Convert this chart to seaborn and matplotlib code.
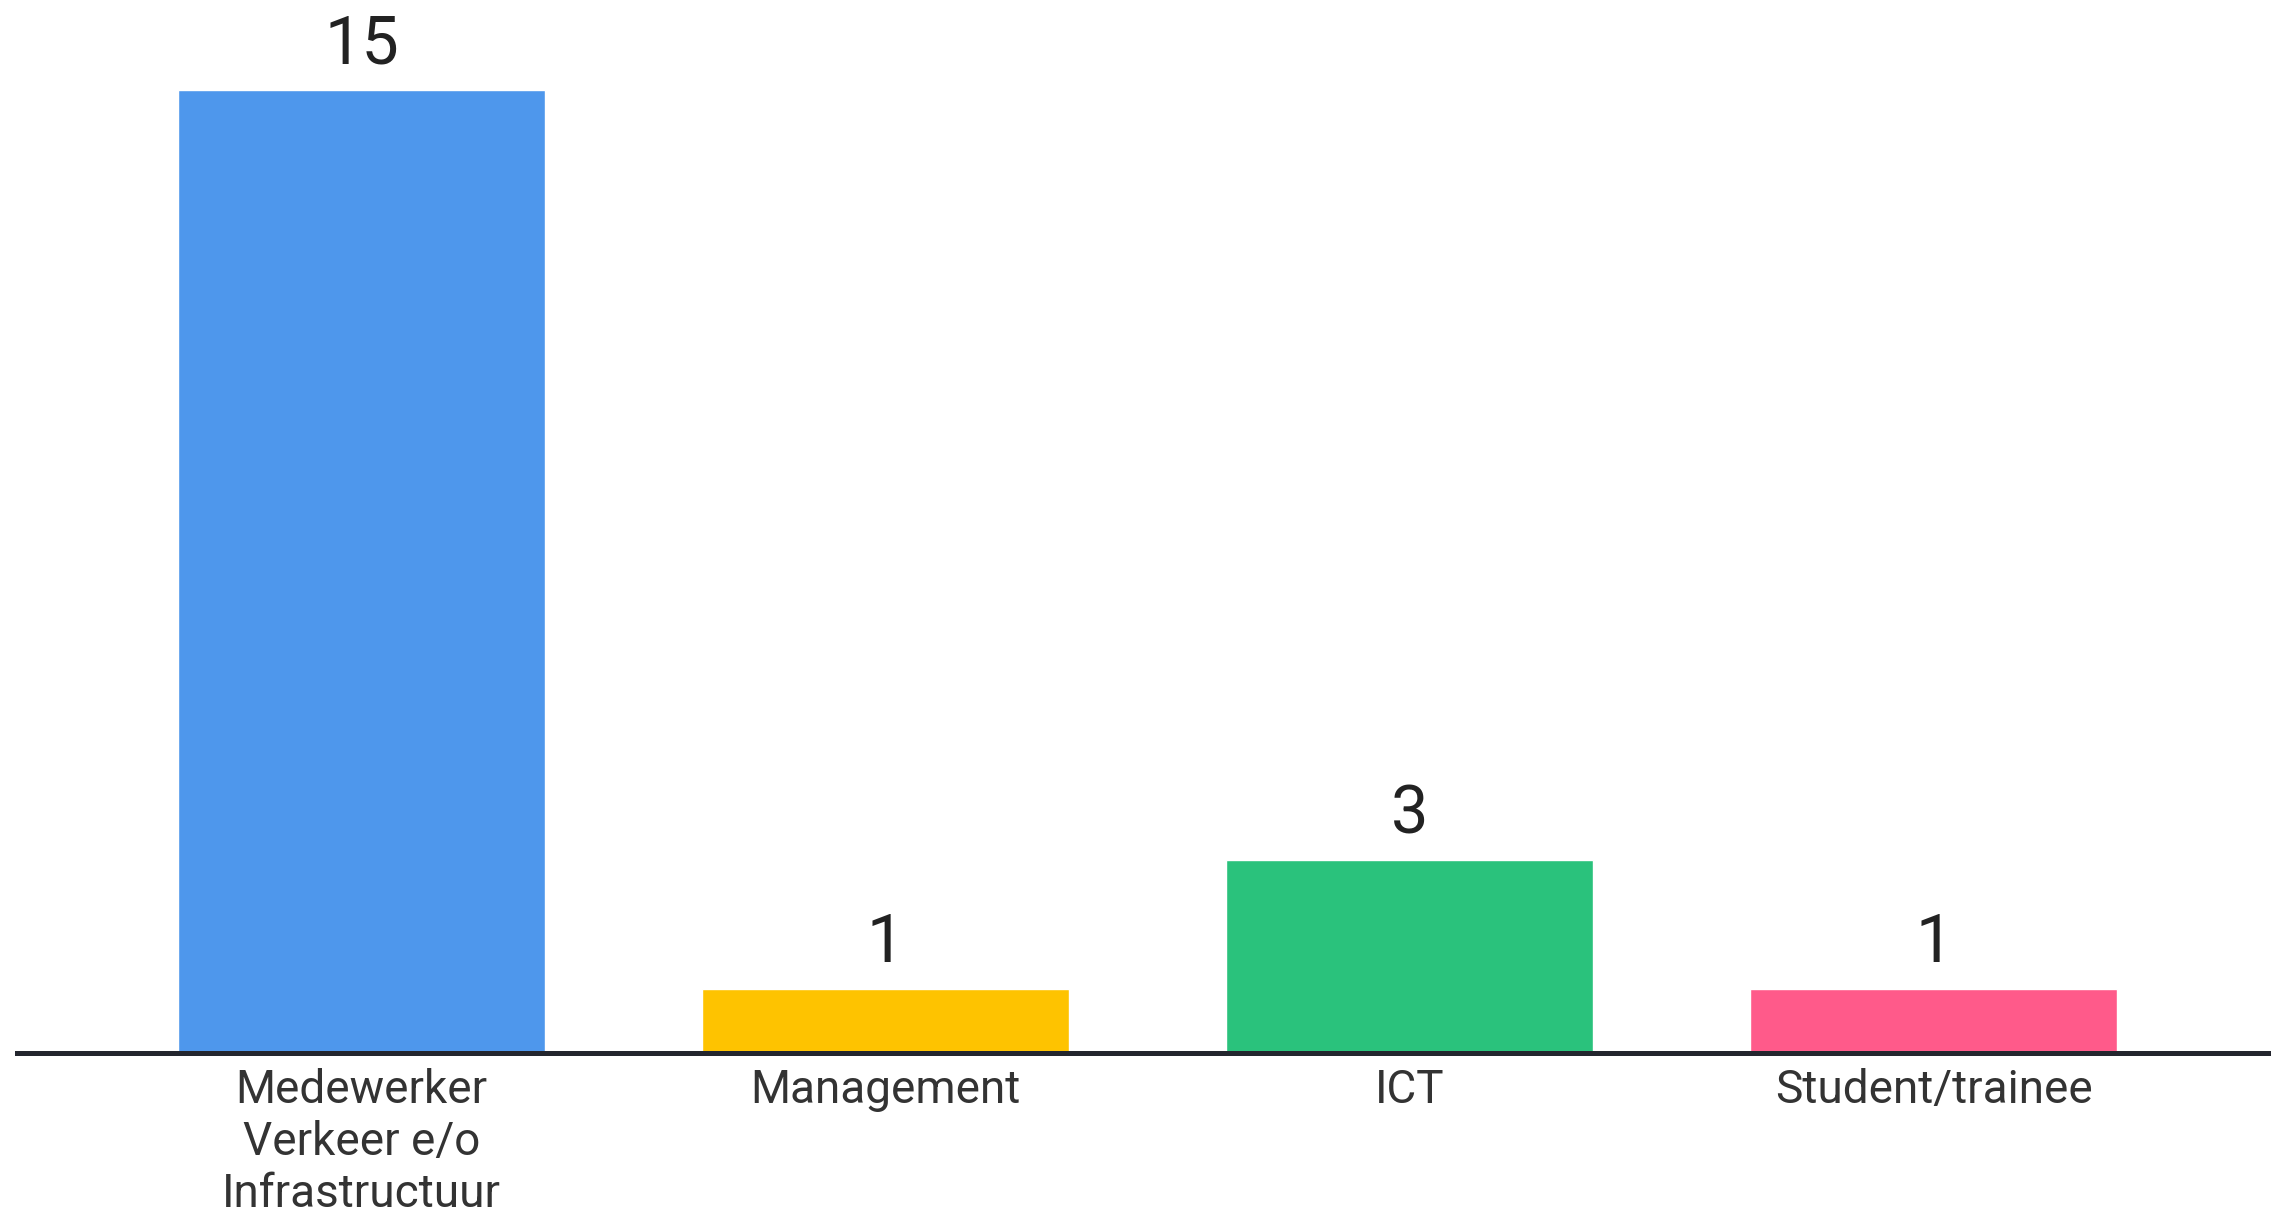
import numpy as np
import pandas as pd
import matplotlib
matplotlib.use("Agg")
import matplotlib.pyplot as plt
import seaborn as sns

# data
categories = ["Medewerker\nVerkeer e/o\nInfrastructuur", "Management", "ICT", "Student/trainee"]
counts = [15, 1, 3, 1]
bar_colors = ["#4e97ec", "#fec300", "#2ac27c", "#ff5a8a"]

df = pd.DataFrame({"category": categories, "count": counts})

sns.set_theme(style="white")
plt.rcParams["font.family"] = ["Roboto", "DejaVu Sans"]

W, H = 2271, 1215
fig = plt.figure(figsize=(W / 100, H / 100), dpi=100)
fig.patch.set_facecolor("white")
ax = fig.add_axes([17 / W, 162 / H, 1 - 17 / W, 1053 / H])

sns.barplot(data=df, x="category", y="count", hue="category",
            palette=bar_colors, width=0.7, legend=False, saturation=1,
            ax=ax)

for cont in ax.containers:
    ax.bar_label(cont, padding=9, fontsize=48, color="#222222")

ax.set_xlim(-0.657, 3.643)
ax.set_ylim(0, 16.4)
ax.set_xlabel("")
ax.set_ylabel("")
ax.set_yticks([])
ax.tick_params(axis="x", length=0, pad=11, labelsize=33, labelcolor="#333333")
plt.setp(ax.get_xticklabels(), linespacing=1.22)

for s in ["top", "left", "right"]:
    ax.spines[s].set_visible(False)
ax.spines["bottom"].set_color("#23262e")
ax.spines["bottom"].set_linewidth(3.6)
ax.spines["bottom"].set_zorder(5)
ax.set_facecolor("white")

fig.savefig("out.png", dpi=100, facecolor="white")
